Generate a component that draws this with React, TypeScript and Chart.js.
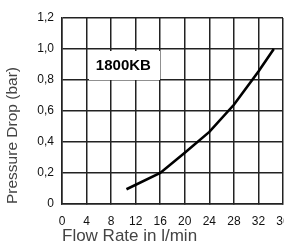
import React, { useEffect, useRef } from "react";
import { Chart, registerables } from "chart.js";

Chart.register(...registerables);

const flowRates = [10.5, 16, 20, 24, 28, 32, 34.5];
const pressureDrops = [0.095, 0.2, 0.33, 0.465, 0.64, 0.855, 1.0];
const xTickStep = 4;
const yTickStep = 0.2;
const seriesLabel = "1800KB";
const xTitle = "Flow Rate in l/min";
const yTitle = "Pressure Drop (bar)";

const FONT = "'Liberation Sans', Arial, Helvetica, sans-serif";
const GRID = "#222222";

const labelBoxPlugin = {
  id: "labelBox",
  beforeDatasetsDraw(chart: any) {
    const { ctx, scales } = chart;
    const x = scales.x;
    const y = scales.y;
    const x0 = Math.round(x.getPixelForValue(4));
    const x1 = Math.round(x.getPixelForValue(16));
    const y0 = Math.round(y.getPixelForValue(1.0));
    const y1 = Math.round(y.getPixelForValue(0.8));
    ctx.save();
    ctx.fillStyle = "#ffffff";
    ctx.fillRect(x0 + 2, y0 + 2, x1 - x0 - 2, y1 - y0 - 2);
    ctx.fillStyle = "#000000";
    ctx.font = "bold 15px " + FONT;
    ctx.textAlign = "center";
    ctx.textBaseline = "middle";
    ctx.fillText(seriesLabel, x.getPixelForValue(10), y.getPixelForValue(0.9) + 1);
    ctx.restore();
  },
};

export default function App() {
  const ref = useRef<HTMLCanvasElement>(null);
  useEffect(() => {
    if (!ref.current) return;
    const chart = new Chart(ref.current, {
      type: "line",
      data: {
        datasets: [
          {
            label: seriesLabel,
            data: flowRates.map((f, i) => ({ x: f, y: pressureDrops[i] })),
            borderColor: "#000000",
            borderWidth: 2.6,
            pointRadius: 0,
            tension: 0,
            fill: false,
          },
        ],
      },
      options: {
        animation: false,
        responsive: false,
        layout: { padding: { left: 0, right: 17, top: 18, bottom: 0 } },
        plugins: { legend: { display: false }, tooltip: { enabled: false } },
        scales: {
          x: {
            type: "linear",
            min: 0,
            max: 36,
            afterFit: (s: any) => {
              s.height = 43;
            },
            ticks: {
              stepSize: xTickStep,
              color: "#111",
              font: { family: FONT, size: 12 },
              padding: 10,
              maxRotation: 0,
            },
            grid: { display: true, color: GRID, lineWidth: 1.5, tickLength: 0 },
            border: { color: GRID, width: 1.5 },
            title: {
              display: true,
              text: xTitle,
              align: "start",
              color: "#444",
              font: { family: FONT, size: 17 },
              padding: { top: 0, bottom: 0 },
            },
          },
          y: {
            min: 0,
            max: 1.2,
            afterFit: (s: any) => {
              s.width = 62;
            },
            ticks: {
              stepSize: yTickStep,
              color: "#111",
              font: { family: FONT, size: 12 },
              padding: 8,
              callback: (v: any) => (Number(v) === 0 ? "0" : Number(v).toFixed(1).replace(".", ",")),
            },
            grid: { display: true, color: GRID, lineWidth: 1.5, tickLength: 0 },
            border: { color: GRID, width: 1.5 },
            title: {
              display: true,
              text: yTitle,
              align: "start",
              color: "#444",
              font: { family: FONT, size: 15.5 },
              padding: { top: 3, bottom: 0 },
            },
          },
        },
      },
      plugins: [labelBoxPlugin],
    });
    return () => chart.destroy();
  }, []);
  return (
    <div style={{ position: "fixed", left: 0, top: 0, width: 284, height: 244, overflow: "hidden", background: "#fff" }}>
      <canvas ref={ref} width={300} height={247} style={{ display: "block", width: 300, height: 247 }} />
    </div>
  );
}
